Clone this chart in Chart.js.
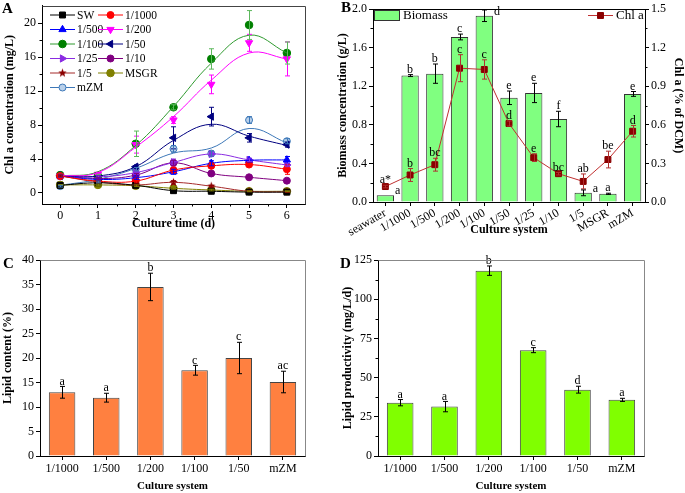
<!DOCTYPE html>
<html>
<head>
<meta charset="utf-8">
<script src="https://cdn.jsdelivr.net/npm/chart.js@4/dist/chart.umd.min.js"></script>
<style>
html,body{margin:0;padding:0;background:#fff;}
#wrap{position:relative;width:685px;height:493px;overflow:hidden;background:#fff;}
.pn{position:absolute;}
</style>
</head>
<body>
<div id="wrap">
  <canvas class="pn" id="chA" width="340" height="240" style="left:0;top:0"></canvas>
  <canvas class="pn" id="chB" width="349" height="245" style="left:336px;top:0"></canvas>
  <canvas class="pn" id="chC" width="340" height="243" style="left:0;top:250px"></canvas>
  <canvas class="pn" id="chD" width="345" height="243" style="left:340px;top:250px"></canvas>
</div>
<script>
// ---- panel A: Chl a concentration (mg/L) vs culture time ----
const days = [0,1,2,3,4,5,6];
const dayTicks = [0,1,2,3,4,5,6];
const dayMinor = [0.5,1.5,2.5,3.5,4.5,5.5];
const chlTicks = [0,4,8,12,16,20];
const chlMinor = [2,6,10,14,18];
const seriesNames = ['SW','1/1000','1/500','1/200','1/100','1/50','1/25','1/10','1/5','MSGR','mZM'];

const chlSW   = [0.9,1.2,0.9,0.27,0.2,0.1,0.1];
const chl1000 = [2.0,1.4,1.4,2.7,3.2,3.35,2.8];
const chl500  = [2.0,1.6,1.8,2.5,3.5,3.85,3.9];
const chl200  = [2.0,2.2,5.7,8.6,12.8,17.7,15.8];
const chl100  = [2.1,2.0,5.8,10.1,15.8,19.8,16.5];
const chl50   = [2.0,1.9,3.1,6.5,9.0,6.5,5.7];
const chl25   = [2.0,1.9,2.4,3.6,4.6,3.9,3.3];
const chl10   = [2.1,1.7,2.1,3.55,2.3,1.85,1.45];
const chl5    = [2.0,1.3,0.95,1.25,0.8,0.2,0.12];
const chlMSGR = [0.95,0.95,0.85,0.55,0.35,0.2,0.2];
const chlMZM  = [0.8,1.3,2.8,5.2,4.65,8.6,6.1];

// fitted curves (only where they differ from the points)
const fit200 = [2.0,2.4,5.4,9.0,13.3,16.5,15.8];
const fit100 = [2.0,2.5,5.6,10.2,15.3,18.6,16.5];
const fit50  = [2.0,2.0,3.1,6.2,8.1,6.7,5.6];
const fitMZM = [0.9,1.6,2.9,4.7,5.3,7.6,5.9];

const errSW   = [0.05,0.1,0.1,0.1,0.1,0.05,0.05];
const err1000 = [0.1,0.1,0.2,0.3,0.3,0.2,0.6];
const err500  = [0.1,0.1,0.2,0.3,0.3,0.2,0.4];
const err200  = [0.1,0.2,1.0,0.4,1.1,1.0,2.0];
const err100  = [0.1,0.2,1.5,0.3,1.2,1.7,1.3];
const err50   = [0.1,0.1,0.2,1.3,1.1,0.5,0.3];
const err25   = [0.1,0.1,0.2,0.4,0.3,0.2,0.2];
const err10   = [0.1,0.1,0.2,0.3,0.2,0.1,0.1];
const err5    = [0.1,0.1,0.1,0.2,0.1,0.05,0.05];
const errMSGR = [0.05,0.1,0.1,0.1,0.1,0.05,0.05];
const errMZM  = [0.1,0.1,0.2,0.4,0.3,0.4,0.3];

// ---- panel B: biomass (g/L) and Chl a (% of DCM) ----
const bLabels = ['seawater','1/1000','1/500','1/200','1/100','1/50','1/25','1/10','1/5','MSGR','mZM'];
const biomass = [0.07,1.31,1.33,1.71,1.93,1.08,1.13,0.86,0.095,0.085,1.12];
const biomassErr = [0,0.01,0.10,0.03,0.06,0.07,0.10,0.08,0.03,0.006,0.025];
const biomassLetters = ['a','b','b','c','d','e','e','f','a','a','e'];
const chlPct = [0.12,0.21,0.29,1.04,1.03,0.61,0.345,0.22,0.16,0.33,0.55];
const chlPctErr = [0.01,0.05,0.05,0.105,0.075,0.02,0.03,0.01,0.058,0.065,0.045];
const chlPctLetters = ['a*','b','bc','c','c','d','e','bc','ab','be','d'];
const bLeftTicks = [0,0.4,0.8,1.2,1.6,2.0];
const bLeftMinor = [0.2,0.6,1.0,1.4,1.8];
const bRightTicks = [0,0.3,0.6,0.9,1.2,1.5];
const bRightMinor = [0.15,0.45,0.75,1.05,1.35];

// ---- panels C & D: lipid ----
const lipidLabels = ['1/1000','1/500','1/200','1/100','1/50','mZM'];
const lipidContent = [13.0,11.9,34.5,17.5,20.0,15.1];
const lipidContentErr = [1.2,0.9,2.8,1.0,3.2,2.2];
const lipidContentLetters = ['a','a','b','c','c','ac'];
const cTicks = [0,5,10,15,20,25,30,35,40];
const lipidProd = [34.0,31.5,118.2,67.5,42.3,35.8];
const lipidProdErr = [2.0,3.3,3.0,1.6,2.2,1.0];
const lipidProdLetters = ['a','a','b','c','d','a'];
const dTicks = [0,25,50,75,100,125];
const dMinor = [12.5,37.5,62.5,87.5,112.5];

Chart.defaults.font.family = "'Liberation Serif','Times New Roman',serif";
Chart.defaults.font.size = 12;
Chart.defaults.color = '#000';
Chart.defaults.animation = false;

const H = Chart.helpers;

function starImg(color, r){
  const c = document.createElement('canvas');
  c.width = c.height = 2*r+2;
  const g = c.getContext('2d');
  g.fillStyle = color;
  g.beginPath();
  for(let i=0;i<10;i++){
    const a = -Math.PI/2 + i*Math.PI/5;
    const rr = i%2 ? r*0.42 : r;
    g.lineTo(r+1+rr*Math.cos(a), r+1+rr*Math.sin(a));
  }
  g.closePath(); g.fill();
  return c;
}

function drawMarker(ctx, st, x, y){
  ctx.save();
  ctx.fillStyle = st.fill || st.color;
  ctx.strokeStyle = st.color;
  ctx.lineWidth = 1;
  if(H && H.drawPoint){
    H.drawPoint(ctx, {pointStyle: st.style, rotation: st.rot||0, radius: st.r, borderWidth: 1}, x, y);
  }
  ctx.restore();
}

// error bars from ds.errors
const errorBars = {
  id:'errorBars',
  afterDatasetsDraw(chart){
    const ctx = chart.ctx;
    chart.data.datasets.forEach((ds,i)=>{
      if(!ds.errors) return;
      const meta = chart.getDatasetMeta(i);
      const ys = chart.scales[meta.yAxisID];
      ctx.save();
      ctx.strokeStyle = ds.errColor || '#000';
      ctx.lineWidth = 1;
      meta.data.forEach((el,j)=>{
        const e = ds.errors[j];
        if(!e) return;
        const raw = ds.data[j];
        const v = typeof raw === 'object' ? raw.y : raw;
        const x = Math.round(el.x)+0.5;
        const t = ys.getPixelForValue(v+e), b = ys.getPixelForValue(v-e);
        ctx.beginPath();
        ctx.moveTo(x,t); ctx.lineTo(x,b);
        ctx.moveTo(x-2.5,t); ctx.lineTo(x+2.5,t);
        ctx.moveTo(x-2.5,b); ctx.lineTo(x+2.5,b);
        ctx.stroke();
      });
      ctx.restore();
    });
  }
};

// significance letters above bars / points
const letterMarks = {
  id:'letterMarks',
  afterDatasetsDraw(chart){
    const ctx = chart.ctx, area = chart.chartArea;
    chart.data.datasets.forEach((ds,i)=>{
      if(!ds.letters) return;
      const meta = chart.getDatasetMeta(i);
      const ys = chart.scales[meta.yAxisID];
      ctx.save();
      ctx.font = "12px 'Liberation Serif', serif";
      ctx.fillStyle = '#000';
      meta.data.forEach((el,j)=>{
        const v = ds.data[j];
        const e = ds.errors ? ds.errors[j] : 0;
        const top = ys.getPixelForValue(v+e);
        let side = false;
        if(ds.dodge){
          if(top - 12 < area.top) side = true;
          chart.data.datasets.forEach((o,k)=>{
            if(k===i || !chart.isDatasetVisible(k)) return;
            const p = chart.getDatasetMeta(k).data[j];
            if(p && Math.abs(p.y - (top-7)) < 11) side = true;
          });
        }
        if(side){
          const barTop = ys.getPixelForValue(v);
          ctx.textAlign = 'left'; ctx.textBaseline = 'middle';
          ctx.fillText(ds.letters[j], el.x + (el.width||0)/2 + 1, barTop - 4);
        } else {
          ctx.textAlign = 'center'; ctx.textBaseline = 'bottom';
          ctx.fillText(ds.letters[j], el.x, top + 1);
        }
      });
      ctx.restore();
    });
  }
};

// minor ticks, frame and panel letter
const decor = {
  id:'decor',
  afterDraw(chart, args, opts){
    const ctx = chart.ctx, a = chart.chartArea;
    ctx.save();
    ctx.strokeStyle = opts.tickColor || '#000';
    ctx.lineWidth = 1;
    const minor = opts.minor || {};
    Object.keys(minor).forEach(id=>{
      const sc = chart.scales[id];
      ctx.beginPath();
      minor[id].forEach(v=>{
        const p = Math.round(sc.getPixelForValue(v))+0.5;
        if(sc.isHorizontal()){ ctx.moveTo(p, a.bottom); ctx.lineTo(p, a.bottom+2.5); }
        else if(sc.position === 'right'){ ctx.moveTo(a.right, p); ctx.lineTo(a.right+2.5, p); }
        else { ctx.moveTo(a.left-2.5, p); ctx.lineTo(a.left, p); }
      });
      ctx.stroke();
    });
    if(opts.frame){
      ctx.strokeStyle = opts.frame;
      ctx.beginPath();
      ctx.moveTo(Math.round(a.left)+0.5, Math.round(a.top)+0.5);
      ctx.lineTo(Math.round(a.right)+0.5, Math.round(a.top)+0.5);
      if(opts.frameRight){ ctx.lineTo(Math.round(a.right)+0.5, Math.round(a.bottom)+0.5); }
      ctx.stroke();
    }
    if(opts.letter){
      ctx.fillStyle = '#000';
      ctx.font = "bold 15px 'Liberation Serif', serif";
      ctx.textAlign = 'left'; ctx.textBaseline = 'alphabetic';
      ctx.fillText(opts.letter, opts.lx, opts.ly);
    }
    ctx.restore();
  }
};

function fixTicks(list){ return function(sc){ sc.ticks = list.map(v=>({value:v})); }; }
function fixW(w){ return function(sc){ sc.width = w; sc.paddingTop = 0; sc.paddingBottom = 0; }; }
function fixH(h){ return function(sc){ sc.height = h; }; }
function axisGrid(len){ return { drawOnChartArea:false, drawTicks:true, tickLength:len, tickColor:'#000' }; }
const axisBorder = { display:true, color:'#000', width:1 };
const titleFont = { family:"'Liberation Serif', serif", size:12, weight:'bold' };

// ---------------- Panel A ----------------
const aValues = [chlSW,chl1000,chl500,chl200,chl100,chl50,chl25,chl10,chl5,chlMSGR,chlMZM];
const aErrors = [errSW,err1000,err500,err200,err100,err50,err25,err10,err5,errMSGR,errMZM];
const aFits   = [null,null,null,fit200,fit100,fit50,null,null,null,null,fitMZM];
const aStyles = [
  {color:'#000000', style:'rect', r:4.2},
  {color:'#ff0000', style:'circle', r:3.5},
  {color:'#0000ff', style:'triangle', r:4.2},
  {color:'#ff00ff', style:'triangle', rot:180, r:4.2},
  {color:'#008000', line:'#2f9a2f', style:'circle', r:3.8, err:'#5cb85c'},
  {color:'#000080', style:'triangle', rot:-90, r:4.2},
  {color:'#8a2be2', style:'triangle', rot:90, r:4.2},
  {color:'#800080', style:'circle', r:3.5},
  {color:'#8b0000', line:'#a52a2a', style:starImg('#8b0000',4.5), r:4.5},
  {color:'#808000', style:'circle', r:3.8},
  {color:'#3d78b8', fill:'#b9d0ea', style:'circle', r:3.5}
];

function pts(ys){ return days.map((d,k)=>({x:d, y:ys[k]})); }

const aDatasets = [];
aValues.forEach((vals,k)=>{
  const st = aStyles[k];
  aDatasets.push({
    label: seriesNames[k]+' fit', data: pts(aFits[k] || vals),
    borderColor: st.line || st.color, borderWidth: 1, pointRadius: 0, tension: 0.4, fill:false
  });
});
aValues.forEach((vals,k)=>{
  const st = aStyles[k];
  aDatasets.push({
    label: seriesNames[k], data: pts(vals), showLine:false,
    pointStyle: st.style, pointRotation: st.rot||0, pointRadius: st.r,
    pointBackgroundColor: st.fill || st.color, pointBorderColor: st.color, pointBorderWidth: 1,
    errors: aErrors[k], errColor: st.err || st.color
  });
});

const legendA = {
  id:'legendA',
  afterDraw(chart){
    const ctx = chart.ctx, a = chart.chartArea;
    ctx.save();
    ctx.font = "11.5px 'Liberation Serif', serif";
    ctx.textBaseline = 'middle'; ctx.textAlign = 'left';
    seriesNames.forEach((name,k)=>{
      const st = aStyles[k];
      const x0 = a.left + (k%2 ? 56 : 8);
      const y = a.top + 9.5 + Math.floor(k/2)*14.5;
      ctx.strokeStyle = st.line || st.color; ctx.lineWidth = 1;
      ctx.beginPath(); ctx.moveTo(x0, y); ctx.lineTo(x0+25, y); ctx.stroke();
      drawMarker(ctx, st, x0+12.5, y);
      ctx.fillStyle = '#000';
      ctx.fillText(name, x0+27, y+0.5);
    });
    ctx.restore();
  }
};

new Chart(document.getElementById('chA'), {
  type:'line',
  data:{ datasets: aDatasets },
  options:{
    responsive:false,
    layout:{ padding:{ left:0, top:5, right:35, bottom:0 } },
    plugins:{
      legend:{display:false}, tooltip:{enabled:false},
      decor:{ minor:{ x:dayMinor, y:chlMinor }, frame:'#444', frameRight:true, letter:'A', lx:2, ly:13 }
    },
    scales:{
      x:{ type:'linear', min:-0.48, max:6.48, afterBuildTicks:fixTicks(dayTicks), afterFit:fixH(36),
          grid:axisGrid(4), border:axisBorder,
          ticks:{ padding:1, font:{size:12} },
          title:{ display:true, text:'Culture time (d)', font:titleFont, padding:{top:0,bottom:9} } },
      y:{ type:'linear', min:-1.3, max:22.1, afterBuildTicks:fixTicks(chlTicks), afterFit:fixW(42),
          grid:axisGrid(4), border:axisBorder,
          ticks:{ padding:2, font:{size:12} },
          title:{ display:true, text:'Chl a concentration (mg/L)', font:titleFont, padding:{top:3,bottom:0} } }
    }
  },
  plugins:[errorBars, legendA, decor]
});

// ---------------- Panel B ----------------
const legendB = {
  id:'legendB',
  afterDraw(chart){
    const ctx = chart.ctx, a = chart.chartArea;
    ctx.save();
    ctx.font = "13px 'Liberation Serif', serif";
    ctx.textBaseline = 'middle'; ctx.textAlign = 'left';
    ctx.fillStyle = '#80ff80'; ctx.strokeStyle = '#333'; ctx.lineWidth = 1;
    ctx.fillRect(a.left+1.5, a.top+1.5, 25, 10);
    ctx.strokeRect(a.left+1.5, a.top+1.5, 25, 10);
    ctx.fillStyle = '#000';
    ctx.fillText('Biomass', a.left+30, a.top+7);
    const x0 = a.right - 57, y = a.top + 6.5;
    ctx.strokeStyle = '#c03030';
    ctx.beginPath(); ctx.moveTo(x0, y); ctx.lineTo(x0+25, y); ctx.stroke();
    drawMarker(ctx, {color:'#8b0000', style:'rect', r:4.2}, x0+12.5, y);
    ctx.fillStyle = '#000';
    ctx.fillText('Chl a', x0+28, y+0.5);
    ctx.restore();
  }
};

new Chart(document.getElementById('chB'), {
  type:'bar',
  data:{
    labels: bLabels,
    datasets:[
      { type:'line', label:'Chl a', data: chlPct, yAxisID:'y1', order:0,
        borderColor:'#c03030', borderWidth:1, tension:0,
        pointStyle:'rect', pointRadius:4.2, pointBackgroundColor:'#8b0000', pointBorderColor:'#8b0000',
        errors: chlPctErr, errColor:'#b03030', letters: chlPctLetters },
      { type:'bar', label:'Biomass', data: biomass, yAxisID:'y', order:1,
        backgroundColor:'#80ff80', borderColor:'#333', borderWidth:1,
        barPercentage:0.7, categoryPercentage:1,
        errors: biomassErr, errColor:'#000', letters: biomassLetters, dodge:true }
    ]
  },
  options:{
    responsive:false,
    layout:{ padding:{ left:0, top:9, right:0, bottom:0 } },
    plugins:{
      legend:{display:false}, tooltip:{enabled:false},
      decor:{ minor:{ y:bLeftMinor, y1:bRightMinor }, frame:'#000', frameRight:false, letter:'B', lx:5, ly:12 }
    },
    scales:{
      x:{ afterFit:fixH(43), grid:Object.assign(axisGrid(4),{offset:false}), border:axisBorder,
          ticks:{ minRotation:30, maxRotation:30, autoSkip:false, padding:0, font:{size:12} },
          title:{ display:true, text:'Culture system', font:titleFont, padding:{top:0,bottom:8} } },
      y:{ position:'left', min:0, max:2.0, afterBuildTicks:fixTicks(bLeftTicks), afterFit:fixW(37),
          grid:axisGrid(4), border:axisBorder,
          ticks:{ padding:2, font:{size:12}, callback:v=>v.toFixed(1) },
          title:{ display:true, text:'Biomass concentration (g/L)', font:titleFont, padding:{top:0,bottom:0} } },
      y1:{ position:'right', min:0, max:1.5, afterBuildTicks:fixTicks(bRightTicks), afterFit:fixW(40),
          grid:axisGrid(4), border:axisBorder,
          ticks:{ padding:2, font:{size:12}, callback:v=>v.toFixed(1) },
          title:{ display:true, text:'Chl a (% of DCM)', font:titleFont, padding:{top:0,bottom:0} } }
    }
  },
  plugins:[errorBars, letterMarks, legendB, decor]
});

// ---------------- Panels C & D ----------------
function lipidChart(id, values, errs, letters, color, ticks, minor, yMax, yTitle, wLeft, padRight, letter, lx){
  new Chart(document.getElementById(id), {
    type:'bar',
    data:{ labels: lipidLabels, datasets:[{
      data: values, backgroundColor: color, borderColor:'#444', borderWidth:1,
      barPercentage:0.6, categoryPercentage:1,
      errors: errs, errColor:'#000', letters: letters
    }]},
    options:{
      responsive:false,
      layout:{ padding:{ left:0, top:10, right:padRight, bottom:0 } },
      plugins:{
        legend:{display:false}, tooltip:{enabled:false},
        decor:{ minor: minor ? { y: minor } : {}, frame:'#888', frameRight:true, letter:letter, lx:lx, ly:18 }
      },
      scales:{
        x:{ afterFit:fixH(37), grid:Object.assign(axisGrid(4),{offset:false}), border:axisBorder,
            ticks:{ padding:2, font:{size:12} },
            title:{ display:true, text:'Culture system', font:{family:"'Liberation Serif', serif", size:11, weight:'bold'}, padding:{top:0,bottom:0} } },
        y:{ min:0, max:yMax, afterBuildTicks:fixTicks(ticks), afterFit:fixW(wLeft),
            grid:axisGrid(4), border:axisBorder,
            ticks:{ padding:2, font:{size:12} },
            title:{ display:true, text:yTitle, font:titleFont, padding:{top:1,bottom:0} } }
      }
    },
    plugins:[errorBars, letterMarks, decor]
  });
}

lipidChart('chC', lipidContent, lipidContentErr, lipidContentLetters, '#ff8040', cTicks, null, 40, 'Lipid content (%)', 40, 35, 'C', 3);
lipidChart('chD', lipidProd, lipidProdErr, lipidProdLetters, '#80ff00', dTicks, dMinor, 125, 'Lipid productivity (mg/L/d)', 38, 41, 'D', 0);
</script>
</body>
</html>
